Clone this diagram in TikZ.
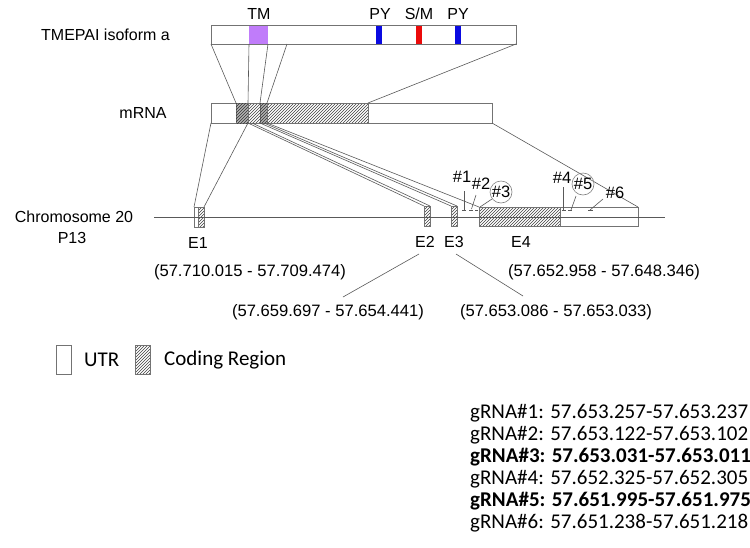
\documentclass[tikz,border=0pt]{standalone}
\usepackage{fontspec}
\setmainfont{Liberation Sans}
\newfontfamily\calfont{Carlito}
\usetikzlibrary{patterns}
\definecolor{tmpurple}{RGB}{192,124,250}
\definecolor{pyblue}{RGB}{10,10,225}
\definecolor{smred}{RGB}{235,10,10}
\begin{document}
\begin{tikzpicture}[x=1pt,y=-1pt,
  boxline/.style={draw=black!55, line width=0.8pt},
  link/.style={draw=black!65, line width=0.6pt},
  hatch/.style={pattern=north east lines, pattern color=black!75},
  darkhatch/.style={fill=black!30, postaction={pattern=north east lines, pattern color=black!80}},
  lbl/.style={font=\fontsize{16}{18}\selectfont, inner sep=0pt},
  sitelbl/.style={font=\fontsize{16.5}{18}\selectfont, inner sep=0pt},
  clbl/.style={font=\calfont\fontsize{21}{22}\selectfont, inner sep=0pt, anchor=west},
  coord/.style={font=\fontsize{16.5}{18}\selectfont, inner sep=0pt}]
\useasboundingbox (0,0) rectangle (750,547);

% ---------- protein ----------
\node[lbl, anchor=east] (plbl) at (170,35) {TMEPAI isoform a};
\fill[tmpurple] (249,25) rectangle (268,44);
\fill[pyblue] (376,25) rectangle (382,44);
\fill[smred] (416,25) rectangle (422,44);
\fill[pyblue] (455,25) rectangle (461,44);
\node[boxline, anchor=north west, minimum width=305pt, minimum height=19pt, inner sep=0pt] (prot) at (211,25) {};
\node[lbl] (tm) at (259,14) {TM};
\node[lbl] (py1) at (380,14) {PY};
\node[lbl] (sm) at (419,14) {S/M};
\node[lbl] (py2) at (458,14) {PY};

% ---------- mRNA ----------
\node[lbl] (mlbl) at (143,113) {mRNA};
\draw[boxline] (211,103) rectangle (492,123);
\draw[boxline, darkhatch] (236,103) rectangle (248,123);
\draw[boxline, hatch] (248,103) rectangle (260,123);
\draw[boxline, darkhatch] (260,103) rectangle (267,123);
\draw[boxline, hatch] (267,103) rectangle (368,123);

% protein -> mRNA
\coordinate (pa) at (211,44); \coordinate (ma) at (236,103);
\coordinate (pb) at (249,44); \coordinate (mb) at (248,103);
\coordinate (pc) at (268,44); \coordinate (mc) at (260,103);
\coordinate (pd) at (287,44); \coordinate (md) at (267,103);
\coordinate (pe) at (516,44); \coordinate (me) at (368,103);
\draw[link] (pa) -- (ma);
\draw[link] (pb) -- (mb);
\draw[link] (pc) -- (mc);
\draw[link] (pd) -- (md);
\draw[link] (pe) -- (me);

% ---------- chromosome ----------
\node[lbl] (chr) at (74,217) {Chromosome 20};
\node[lbl] (p13) at (72,238) {P13};
\draw[boxline] (194,207) rectangle (198,227);
\draw[boxline, hatch] (198,207) rectangle (204,227);
\draw[boxline, hatch] (424,206) rectangle (430,226);
\draw[boxline, hatch] (451,206) rectangle (457,226);
\draw[boxline, hatch] (479,207) rectangle (560,226);
\draw[boxline] (560,207) rectangle (638,226);
\coordinate (cl) at (154,217); \coordinate (cr) at (665,217);
\draw[link] (cl) -- (cr);

% mRNA -> exons
\coordinate (m0) at (211,123); \coordinate (m1) at (248,123);
\coordinate (m2) at (252,123); \coordinate (m3) at (260,123);
\coordinate (m4) at (264,123); \coordinate (m5) at (267,123);
\coordinate (m6) at (492,123);
\coordinate (e1l) at (194,207); \coordinate (e1r) at (204,207);
\coordinate (e2l) at (424,206); \coordinate (e2r) at (430,206);
\coordinate (e3l) at (451,206); \coordinate (e3r) at (457,206);
\coordinate (e4l) at (479,207); \coordinate (e4r) at (638,207);
\draw[link] (m0) -- (e1l);
\draw[link] (m1) -- (e1r);
\draw[link] (m1) -- (e2l);
\draw[link] (m2) -- (e2r);
\draw[link] (m3) -- (e3l);
\draw[link] (m4) -- (e3r);
\draw[link] (m5) -- (e4l);
\draw[link] (m6) -- (e4r);

% exon labels
\node[lbl] (E1) at (198,243) {E1};
\node[lbl] (E2) at (425,242) {E2};
\node[lbl] (E3) at (454,242) {E3};
\node[lbl] (E4) at (521,242) {E4};

% coordinates
\node[coord] (c1) at (250,272) {\resizebox{192pt}{\height}{(57.710.015 - 57.709.474)}};
\node[coord] (c4) at (604,272) {\resizebox{192pt}{\height}{(57.652.958 - 57.648.346)}};
\node[coord] (c2) at (328,312) {\resizebox{192pt}{\height}{(57.659.697 - 57.654.441)}};
\node[coord] (c3) at (556,312) {\resizebox{192pt}{\height}{(57.653.086 - 57.653.033)}};
\coordinate (l2a) at (419,254); \coordinate (l2b) at (343,297);
\coordinate (l3a) at (456,254); \coordinate (l3b) at (523,296);
\draw[link] (l2a) -- (l2b);
\draw[link] (l3a) -- (l3b);

% gRNA sites
\foreach \a/\b in {462/466,469/473,475/478,562/566,568/572,588/593}
  \draw[link] (\a,210) -- (\b,210);
\node[sitelbl] (s1) at (462,177) {\#1};
\node[sitelbl] (s2) at (481,184) {\#2};
\node[sitelbl] (s3) at (501,192) {\#3};
\node[sitelbl] (s4) at (562,178) {\#4};
\node[sitelbl] (s5) at (583,184) {\#5};
\node[sitelbl] (s6) at (615,193) {\#6};
\draw[link, draw=black!50] (s3) circle (11);
\draw[link, draw=black!50] (s5) circle (11);
\coordinate (t1a) at (464,191); \coordinate (t1b) at (464,210);
\coordinate (t2a) at (476,195); \coordinate (t2b) at (471.5,209);
\coordinate (t3a) at (492,199); \coordinate (t3b) at (480,207);
\coordinate (t4a) at (563.5,187); \coordinate (t4b) at (563.5,210);
\coordinate (t5a) at (576,196); \coordinate (t5b) at (571,210);
\coordinate (t6a) at (603,199); \coordinate (t6b) at (590,210);
\draw[link] (t1a) -- (t1b);
\draw[link] (t2a) -- (t2b);
\draw[link] (t3a) -- (t3b);
\draw[link] (t4a) -- (t4b);
\draw[link] (t5a) -- (t5b);
\draw[link] (t6a) -- (t6b);

% ---------- legend ----------
\draw[boxline] (56,345) rectangle (71,374);
\node[clbl] (utr) at (84,360) {UTR};
\draw[boxline, hatch] (135,345) rectangle (150,374);
\node[clbl] (cod) at (164,360) {Coding Region};

% ---------- gRNA list ----------
\node[clbl] (g1) at (470,413) {gRNA\#1: 57.653.257-57.653.237};
\node[clbl] (g2) at (470,435) {gRNA\#2: 57.653.122-57.653.102};
\node[clbl] (g3) at (470,457) {\bfseries gRNA\#3: 57.653.031-57.653.011};
\node[clbl] (g4) at (470,479) {gRNA\#4: 57.652.325-57.652.305};
\node[clbl] (g5) at (470,501) {\bfseries gRNA\#5: 57.651.995-57.651.975};
\node[clbl] (g6) at (470,523) {gRNA\#6: 57.651.238-57.651.218};
\end{tikzpicture}
\end{document}
